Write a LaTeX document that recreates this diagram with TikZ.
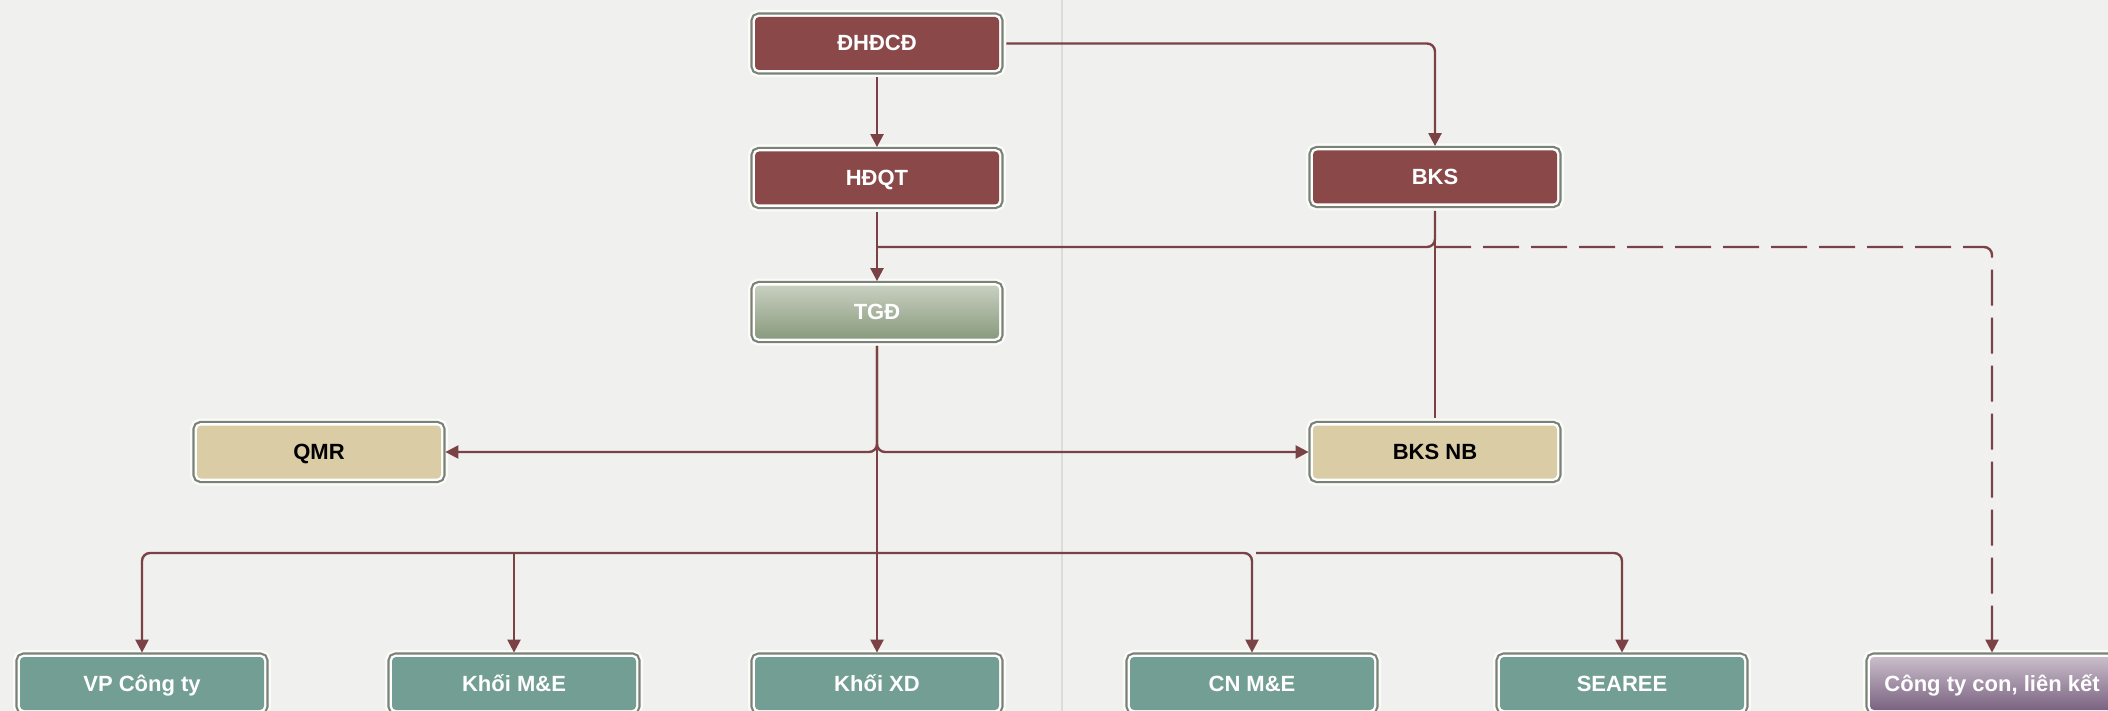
\documentclass[tikz,border=0pt]{standalone}
\usepackage{fontspec}
\setmainfont{Liberation Sans}
\usetikzlibrary{arrows.meta}
\pgfdeclarelayer{bg}
\pgfdeclarelayer{edges}
\pgfsetlayers{bg,main,edges}
\definecolor{bgc}{HTML}{F0F0EE}
\definecolor{lc}{HTML}{7B4245}
\definecolor{redbox}{HTML}{8A4849}
\definecolor{beige}{HTML}{DACCA5}
\definecolor{teal}{HTML}{739E94}
\definecolor{tgdtop}{HTML}{C8D0C0}
\definecolor{tgdbot}{HTML}{899B7E}
\definecolor{purtop}{HTML}{CABDCA}
\definecolor{purbot}{HTML}{7A6381}
\definecolor{bordc}{HTML}{7A8276}
\definecolor{halo}{HTML}{FBFBFA}
\definecolor{guide}{HTML}{DCDCDA}
\begin{document}
\begin{tikzpicture}[x=0.5pt,y=-0.5pt,
  conn/.style={draw=lc, line width=1.2pt, rounded corners=4pt},
  arr/.style={-{Triangle[length=6.5pt,width=6.5pt]}, shorten >=2pt},
  fromnode/.style={shorten <=3.5pt},
  tonode/.style={shorten >=3.5pt},
  dashconn/.style={dash pattern=on 18pt off 6pt},
  box/.style={rounded corners=2pt, minimum width=122pt, minimum height=26.5pt,
    inner sep=0pt, text height=7.9pt, text depth=0.4pt,
    font=\fontsize{11}{13}\selectfont\bfseries, text=white,
    preaction={draw=halo, line width=7pt},
    preaction={draw=bordc, line width=4.6pt},
    preaction={draw=white, line width=2.4pt}},
  redb/.style={box, fill=redbox},
  beigeb/.style={box, fill=beige, text=black},
  tealb/.style={box, fill=teal},
  tgdb/.style={box, top color=tgdtop, bottom color=tgdbot},
  purb/.style={box, top color=purtop, bottom color=purbot}]
\useasboundingbox (0,0) rectangle (2108,711);
\begin{pgfonlayer}{bg}
\fill[bgc] (0,0) rectangle (2108,711);
\draw[guide, line width=0.6pt] (1062,0) -- (1062,711);
\end{pgfonlayer}

\node[redb] (dhdcd) at (877,43.5) {ĐHĐCĐ};
\node[redb] (hdqt) at (877,178) {HĐQT};
\node[redb] (bks) at (1435,177) {BKS};
\node[tgdb] (tgd) at (877,312) {TGĐ};
\node[beigeb] (qmr) at (319,452) {QMR};
\node[beigeb] (bksnb) at (1435,452) {BKS NB};
\node[tealb] (vp) at (142,683.5) {VP Công ty};
\node[tealb] (kme) at (514,683.5) {Khối M\&E};
\node[tealb] (kxd) at (877,683.5) {Khối XD};
\node[tealb] (cnme) at (1252,683.5) {CN M\&E};
\node[tealb] (searee) at (1622,683.5) {SEAREE};
\node[purb] (cty) at (1992,683.5) {Công ty con, liên kết};

\coordinate (j1) at (877,247);
\coordinate (bus) at (877,553);

\begin{pgfonlayer}{edges}
\draw[conn, arr, fromnode] (dhdcd.south) -- (hdqt.north);
\draw[conn, arr, fromnode] (dhdcd.east) -| (bks.north);
\draw[conn, arr, fromnode] (hdqt.south) -- (tgd.north);
\draw[conn, fromnode, tonode] (bks.south) -- (bksnb.north);
\draw[conn, fromnode] (bks.south) |- (j1);
\draw[conn, dashconn, arr] (bks.south |- j1) -| (cty.north);
\draw[conn, arr, fromnode] (tgd.south) |- (qmr.east);
\draw[conn, arr, fromnode] (tgd.south) |- (bksnb.west);
\draw[conn, arr, fromnode] (tgd.south) -- (kxd.north);
\draw[conn, arr] (bus) -| (vp.north);
\draw[conn, arr] (kme.north |- bus) -- (kme.north);
\draw[conn, arr] (bus) -| (cnme.north);
\draw[conn, arr] ([xshift=2pt]cnme.north |- bus) -| (searee.north);
\end{pgfonlayer}
\end{tikzpicture}
\end{document}
